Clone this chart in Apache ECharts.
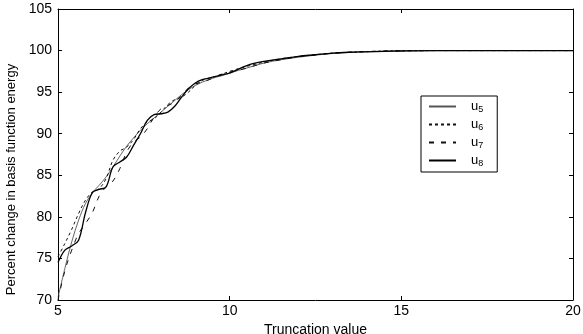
<!DOCTYPE html>
<html>
<head>
<meta charset="utf-8">
<script src="https://cdn.jsdelivr.net/npm/echarts@6/dist/echarts.min.js"></script>
<style>html,body{margin:0;padding:0;background:#fff}#c{width:583px;height:334px}</style>
</head>
<body>
<div id="c"></div>
<script>
const xs = [5,5.2,5.4,5.6,5.8,6,6.2,6.4,6.6,6.8,7,7.2,7.4,7.6,7.8,8,8.2,8.4,8.6,8.8,9,9.2,9.4,9.6,9.8,10,10.5,11,11.5,12,12.5,13,13.5,14,14.5,15,16,17,18,19,20];
const u5 = [70.3,73.8,77.0,79.6,81.6,82.9,83.8,84.8,86.0,87.3,88.5,89.5,90.4,91.2,91.9,92.6,93.3,94.0,94.7,95.3,95.8,96.2,96.5,96.8,97.0,97.3,97.9,98.5,98.9,99.2,99.45,99.65,99.78,99.87,99.93,99.97,100,100,100,100,100];
const u6 = [75.2,76.8,78.5,80.4,82.0,83.0,83.4,84.6,86.8,87.9,88.4,89.3,90.6,91.4,91.8,92.6,93.5,94.1,94.4,95.0,95.8,96.4,96.7,96.9,97.2,97.5,98.1,98.6,99.0,99.3,99.5,99.7,99.8,99.88,99.94,99.97,100,100,100,100,100];
const u7 = [70.0,73.5,76.0,78.0,79.2,80.5,82.5,83.6,84.3,85.8,87.8,89.0,89.6,90.6,92.0,93.0,93.4,93.8,94.6,95.5,96.0,96.2,96.5,96.9,97.2,97.4,97.9,98.5,98.9,99.25,99.5,99.68,99.8,99.88,99.94,99.97,100,100,100,100,100];
const u8 = [74.5,76.0,76.5,77.2,80.5,82.9,83.3,83.6,86.0,86.6,87.2,88.6,90.0,91.6,92.3,92.4,92.6,93.3,94.4,95.4,96.1,96.5,96.7,96.9,97.1,97.3,98.2,98.7,99.0,99.3,99.5,99.7,99.8,99.85,99.9,99.95,100,100,100,100,100];
const seriesNames = ['u5','u6','u7','u8'];
const xTicks = [5,10,15,20];
const yTicks = [70,75,80,85,90,95,100,105];

const zip = ys => xs.map((x,i)=>[x,ys[i]]);
const styles = [
  {color:'#555', width:0.9, type:'solid'},
  {color:'#111', width:1, type:[3,3]},
  {color:'#111', width:1, type:[5,7]},
  {color:'#000', width:1.3, type:'solid'}
];
const all = [u5,u6,u7,u8];
const font = 'Liberation Sans, Arial, sans-serif';
const chart = echarts.init(document.getElementById('c'));
const axisCommon = {
  axisLine:{show:true, onZero:false, lineStyle:{color:'#000', width:1}},
  axisTick:{show:true, inside:true, length:4, lineStyle:{color:'#000'}},
  splitLine:{show:false}
};
chart.setOption({
  animation:false,
  backgroundColor:'#fff',
  grid:{left:58, right:10, top:9, bottom:34, containLabel:false, outerBoundsMode:'none'},
  xAxis:[
    Object.assign({type:'value', min:xTicks[0], max:xTicks[xTicks.length-1], interval:5, position:'bottom',
      name:'Truncation value', nameLocation:'middle', nameGap:13,
      nameTextStyle:{fontFamily:font, fontSize:14, color:'#000'},
      axisLabel:{fontFamily:font, fontSize:14, color:'#000', margin:4}}, axisCommon),
    Object.assign({type:'value', min:xTicks[0], max:xTicks[xTicks.length-1], interval:5, position:'top',
      axisLabel:{show:false}}, axisCommon)
  ],
  yAxis:[
    Object.assign({type:'value', min:yTicks[0], max:yTicks[yTicks.length-1], interval:5, position:'left',
      name:'Percent change in basis function energy', nameLocation:'middle', nameGap:31,
      nameTextStyle:{fontFamily:font, fontSize:13, color:'#000', padding:[0,50,0,0]},
      axisLabel:{fontFamily:font, fontSize:14, color:'#000', margin:6}}, axisCommon),
    Object.assign({type:'value', min:yTicks[0], max:yTicks[yTicks.length-1], interval:5, position:'right',
      axisLabel:{show:false}}, axisCommon)
  ],
  legend:{
    orient:'vertical', left:421, top:96,
    data:seriesNames,
    backgroundColor:'#fff', borderColor:'#000', borderWidth:1,
    padding:[4,14,4,7], itemGap:4, itemWidth:27, itemHeight:14,
    itemStyle:{opacity:0, borderWidth:0},
    formatter: n => 'u{s|' + n.slice(1) + '}',
    textStyle:{fontFamily:font, fontSize:13, color:'#000', padding:[0,0,0,10],
      rich:{s:{fontFamily:font, fontSize:9, color:'#000', verticalAlign:'bottom', padding:[6,0,0,0]}}}
  },
  series: seriesNames.map((n,i)=>({
    name:n, type:'line', data:zip(all[i]), symbol:'none', smooth:0.35,
    xAxisIndex:0, yAxisIndex:0,
    lineStyle:styles[i], itemStyle:{color:styles[i].color}
  }))
});
</script>
</body>
</html>
